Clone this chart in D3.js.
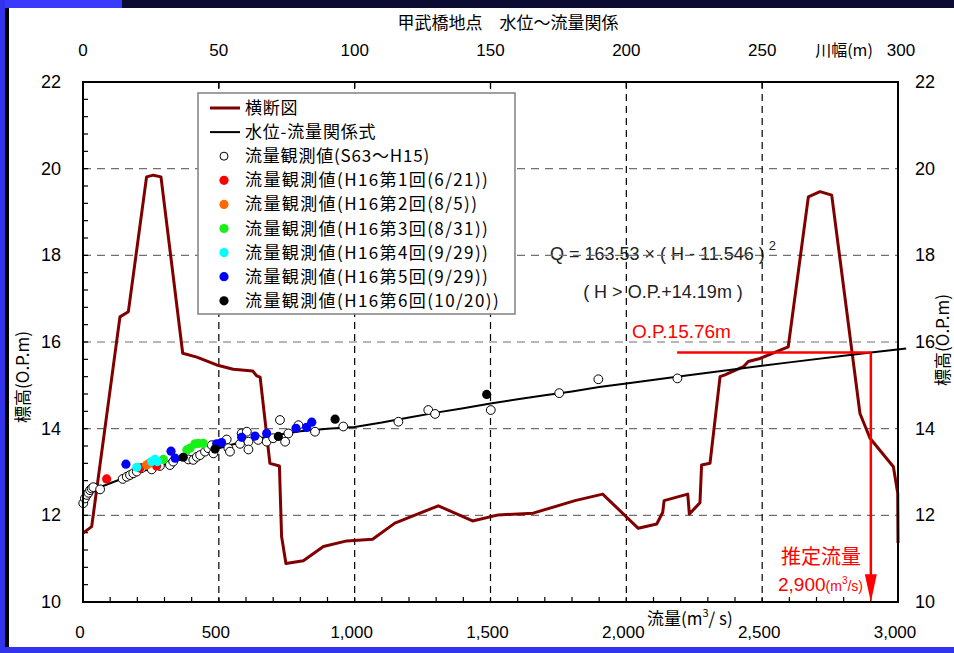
<html>
<head>
<meta charset="utf-8">
<style>
  body { margin: 0; background: #fff; }
  text { font-family: "Liberation Sans", Arial, sans-serif; }
  .jp { font-family: "Noto Sans CJK JP", sans-serif; }
</style>
</head>
<body>
<svg id="chart" width="954" height="653"></svg>
<script src="https://cdn.jsdelivr.net/npm/d3@7/dist/d3.min.js"></script>
<script>
// ---- data ----
// cross-section (top axis: river width m, left axis: elevation O.P.m)
let crossDist = [0, 3.2, 13.6, 16.7, 23.4, 25.9, 28.7, 36.7, 41.9, 49.2, 55.3, 62.5, 63.9, 65.2, 68.8, 72.3, 73.1, 74.7, 81.1, 88.5, 97.1, 106.6, 114.8, 130.8, 143.4, 152.9, 165.7, 181.1, 191.3, 204.4, 211.2, 213.4, 213.9, 222.6, 223.2, 227.1, 227.7, 230.8, 234.5, 236.3, 243.1, 244.9, 249.2, 259.6, 267.0, 271.3, 275.6, 286.0, 289.7, 298.3, 299.9, 300]
let crossElev = [11.59, 11.74, 16.58, 16.70, 19.81, 19.85, 19.81, 15.74, 15.65, 15.47, 15.37, 15.33, 15.22, 15.19, 13.20, 13.14, 11.51, 10.89, 10.95, 11.28, 11.41, 11.45, 11.82, 12.22, 11.87, 12.01, 12.05, 12.34, 12.49, 11.70, 11.80, 12.07, 12.34, 12.49, 12.03, 12.29, 13.16, 13.20, 15.20, 15.24, 15.43, 15.55, 15.62, 15.89, 19.35, 19.47, 19.39, 14.35, 13.78, 13.12, 12.51, 11.36]

// stage-discharge curve
let ratingQ = [0, 50, 100, 200, 300, 400, 500, 600, 700, 800, 900, 1000, 1100, 1200, 1300, 1400, 1500, 1600, 1700, 1800, 1900, 2000, 2200, 2400, 2600, 2800, 2900, 3030]
let ratingH = [12.40, 12.62, 12.74, 12.98, 13.18, 13.36, 13.55, 13.72, 13.84, 13.94, 14.00, 14.04, 14.14, 14.26, 14.37, 14.47, 14.58, 14.68, 14.77, 14.86, 14.96, 15.04, 15.21, 15.37, 15.53, 15.68, 15.76, 15.85]

// observations S63~H15 (open circles)
let obsQ = [1, 7, 14, 20, 26, 32, 38, 63, 146, 161, 173, 185, 198, 216, 253, 283, 320, 332, 388, 406, 419, 431, 449, 461, 474, 480, 529, 535, 541, 578, 584, 603, 609, 609, 645, 676, 700, 725, 744, 756, 793, 854, 958, 1161, 1271, 1296, 1501, 1753, 1897, 2188]
let obsH = [12.28, 12.39, 12.47, 12.52, 12.58, 12.62, 12.65, 12.60, 12.84, 12.89, 12.93, 12.97, 13.01, 13.09, 13.06, 13.14, 13.16, 13.24, 13.29, 13.28, 13.35, 13.39, 13.47, 13.55, 13.62, 13.43, 13.75, 13.55, 13.47, 13.65, 13.89, 13.93, 13.70, 13.52, 13.74, 13.70, 13.78, 14.20, 13.70, 13.89, 14.08, 13.93, 14.05, 14.16, 14.43, 14.34, 14.43, 14.82, 15.14, 15.16]

// H16 observations
let h16_1Q = [87, 210, 271], h16_1H = [12.84, 13.09, 13.14]
let h16_2Q = [234, 244], h16_2H = [13.16, 13.20]
let h16_3Q = [296, 382, 394, 412, 425, 443], h16_3H = [13.29, 13.51, 13.55, 13.65, 13.66, 13.66]
let h16_4Q = [198, 253, 265, 274], h16_4H = [13.11, 13.24, 13.29, 13.24]
let h16_5Q = [158, 324, 339, 492, 510, 584, 633, 676, 784, 823, 842], h16_5H = [13.18, 13.48, 13.32, 13.65, 13.68, 13.80, 13.83, 13.89, 14.01, 14.03, 14.15]
let h16_6Q = [369, 486, 719, 928, 1486], h16_6H = [13.34, 13.53, 13.82, 14.22, 14.79]

let legendNames = ["横断図", "水位-流量関係式", "流量観測値(S63～H15)", "流量観測値(H16第1回(6/21))", "流量観測値(H16第2回(8/5))", "流量観測値(H16第3回(8/31))", "流量観測値(H16第4回(9/29))", "流量観測値(H16第5回(9/29))", "流量観測値(H16第6回(10/20))"]
let markerColors = ["#ff0000", "#ff6a00", "#19f019", "#00ffff", "#0000ff", "#000000"]

let qTicks = [0, 500, 1000, 1500, 2000, 2500, 3000]
let widthTicks = [0, 50, 100, 150, 200, 250, 300]
let hTicks = [10, 12, 14, 16, 18, 20, 22]

let estQ = 2900, estH = 15.76

// ---- layout ----
let svg = d3.select("#chart")
let x = d3.scaleLinear().domain([0, 3000]).range([83, 898])
let xw = d3.scaleLinear().domain([0, 300]).range([83, 898])
let y = d3.scaleLinear().domain([10, 22]).range([602, 82])

// frame decoration
svg.append("rect").attr("x", 0).attr("y", 0).attr("width", 954).attr("height", 8).attr("fill", "#0c0c33")
svg.append("rect").attr("x", 0).attr("y", 0).attr("width", 122).attr("height", 8).attr("fill", "#3a3aff")
svg.append("rect").attr("x", 0).attr("y", 0).attr("width", 5).attr("height", 653).attr("fill", "#3333ee")
svg.append("rect").attr("x", 5).attr("y", 8).attr("width", 4).attr("height", 645).attr("fill", "#000")
svg.append("rect").attr("x", 0).attr("y", 647).attr("width", 954).attr("height", 6).attr("fill", "#3333ee")

// title
svg.append("text").attr("class", "jp").attr("x", 508).attr("y", 29).attr("text-anchor", "middle")
  .attr("font-size", 17).text("甲武橋地点　水位～流量関係")

// equation text (grid runs over it)
let eq = svg.append("text").attr("x", 550).attr("y", 260).attr("font-size", 18).attr("fill", "#222")
eq.append("tspan").text("Q = 163.53 × ( H - 11.546 )")
eq.append("tspan").attr("dy", -10).attr("dx", 4).attr("font-size", 13).text("2")
svg.append("text").attr("x", 663).attr("y", 298).attr("text-anchor", "middle").attr("font-size", 18).attr("fill", "#222")
  .text("( H > O.P.+14.19m )")

// grid
svg.append("g").selectAll("line").data(hTicks.slice(1, -1)).enter().append("line")
  .attr("x1", 83).attr("x2", 898).attr("y1", d => y(d)).attr("y2", d => y(d))
  .attr("stroke", "#707070").attr("stroke-width", 1.2).attr("stroke-dasharray", "8,6")
svg.append("g").selectAll("line").data(qTicks.slice(1, -1)).enter().append("line")
  .attr("x1", d => x(d)).attr("x2", d => x(d)).attr("y1", 82).attr("y2", 602)
  .attr("stroke", "#000").attr("stroke-width", 1.2).attr("stroke-dasharray", "7,5")

// minor ticks
svg.append("g").selectAll("line").data(d3.range(10, 22.01, 0.4)).enter().append("line")
  .attr("x1", 83).attr("x2", 88).attr("y1", d => y(d)).attr("y2", d => y(d)).attr("stroke", "#000").attr("stroke-width", 1.2)
svg.append("g").selectAll("line").data(d3.range(0, 3001, 100)).enter().append("line")
  .attr("x1", d => x(d)).attr("x2", d => x(d)).attr("y1", 602).attr("y2", 597).attr("stroke", "#000").attr("stroke-width", 1.2)
svg.append("g").selectAll("line").data(widthTicks).enter().append("line")
  .attr("x1", d => xw(d)).attr("x2", d => xw(d)).attr("y1", 82).attr("y2", 88).attr("stroke", "#000").attr("stroke-width", 1.2)

// cross section
let crossLine = d3.line().x(d => xw(d[0])).y(d => y(d[1]))
svg.append("path").attr("d", crossLine(d3.zip(crossDist, crossElev)))
  .attr("fill", "none").attr("stroke", "#800000").attr("stroke-width", 3).attr("stroke-linejoin", "round")

// rating curve
let rateLine = d3.line().x(d => x(d[0])).y(d => y(d[1]))
svg.append("path").attr("d", rateLine(d3.zip(ratingQ, ratingH)))
  .attr("fill", "none").attr("stroke", "#000").attr("stroke-width", 2)

// observations
svg.append("g").selectAll("circle").data(d3.zip(obsQ, obsH)).enter().append("circle")
  .attr("cx", d => x(d[0])).attr("cy", d => y(d[1])).attr("r", 4.4)
  .attr("fill", "#fff").attr("stroke", "#000").attr("stroke-width", 1)
let h16 = [[h16_1Q, h16_1H], [h16_2Q, h16_2H], [h16_3Q, h16_3H], [h16_4Q, h16_4H], [h16_5Q, h16_5H], [h16_6Q, h16_6H]]
h16.forEach((s, i) => {
  svg.append("g").selectAll("circle").data(d3.zip(s[0], s[1])).enter().append("circle")
    .attr("cx", d => x(d[0])).attr("cy", d => y(d[1])).attr("r", 4.6).attr("fill", markerColors[i])
})

// estimated flow annotation
svg.append("line").attr("x1", x(2187)).attr("x2", x(estQ)).attr("y1", y(estH)).attr("y2", y(estH))
  .attr("stroke", "#ff0000").attr("stroke-width", 2.5)
svg.append("line").attr("x1", x(estQ)).attr("x2", x(estQ)).attr("y1", y(estH)).attr("y2", y(10.62))
  .attr("stroke", "#ff0000").attr("stroke-width", 2.5)
svg.append("path").attr("d", d3.line()([[x(estQ) - 6, y(10.64)], [x(estQ) + 6, y(10.64)], [x(estQ), y(10)]]) + "Z")
  .attr("fill", "#ff0000")
svg.append("text").attr("x", 632).attr("y", 338).attr("font-size", 19).attr("fill", "#ff0000").text("O.P.15.76m")
svg.append("text").attr("class", "jp").attr("x", 821).attr("y", 564).attr("text-anchor", "middle")
  .attr("font-size", 20).attr("fill", "#ff0000").text("推定流量")
let est = svg.append("text").attr("x", 863).attr("y", 591).attr("text-anchor", "end").attr("fill", "#ff0000").attr("font-size", 19)
est.append("tspan").text("2,900")
est.append("tspan").attr("font-size", 14).text("(m")
est.append("tspan").attr("font-size", 10).attr("dy", -7).text("3")
est.append("tspan").attr("font-size", 14).attr("dy", 7).text("/s)")

// frame lines
svg.append("rect").attr("x", 83).attr("y", 82).attr("width", 815).attr("height", 520)
  .attr("fill", "none").attr("stroke", "#000").attr("stroke-width", 2)

// tick labels
svg.append("g").selectAll("text").data(qTicks).enter().append("text")
  .attr("x", d => x(d) - 3).attr("y", 638).attr("text-anchor", "middle").attr("font-size", 17)
  .text(d => d3.format(",")(d))
svg.append("g").selectAll("text").data(widthTicks).enter().append("text")
  .attr("x", d => xw(d) + (d == 300 ? 3 : 0)).attr("y", 56).attr("text-anchor", "middle").attr("font-size", 17)
  .text(d => d)
svg.append("text").attr("class", "jp").attr("x", 844).attr("y", 56).attr("text-anchor", "middle").attr("font-size", 16).text("川幅(m)")
svg.append("g").selectAll("text").data(hTicks).enter().append("text")
  .attr("x", 61).attr("y", d => y(d) + 6).attr("text-anchor", "end").attr("font-size", 18).text(d => d)
svg.append("g").selectAll("text").data(hTicks).enter().append("text")
  .attr("x", 915).attr("y", d => y(d) + 6).attr("font-size", 18).text(d => d)

// axis titles
svg.append("text").attr("class", "jp").attr("transform", "translate(29,377) rotate(-90)")
  .attr("text-anchor", "middle").attr("font-size", 17).text("標高(O.P.m)")
svg.append("text").attr("class", "jp").attr("transform", "translate(949,340) rotate(-90)")
  .attr("text-anchor", "middle").attr("font-size", 17).text("標高(O.P.m)")
let xt = svg.append("text").attr("class", "jp").attr("x", 647).attr("y", 625).attr("font-size", 17)
xt.append("tspan").text("流量(m")
xt.append("tspan").attr("font-size", 11).attr("dy", -8).text("3")
xt.append("tspan").attr("dy", 8).text("/ s)")

// legend
let legend = svg.append("g")
legend.append("rect").attr("x", 198).attr("y", 93).attr("width", 317).attr("height", 221)
  .attr("fill", "#fff").attr("stroke", "#808080").attr("stroke-width", 1.5)
legendNames.forEach((name, i) => {
  let ly = 108 + i * 24.1
  if (i == 0 || i == 1) {
    legend.append("line").attr("x1", 210).attr("x2", 240).attr("y1", ly).attr("y2", ly)
      .attr("stroke", i == 0 ? "#800000" : "#000").attr("stroke-width", i == 0 ? 3 : 2)
  } else if (i == 2) {
    legend.append("circle").attr("cx", 224).attr("cy", ly).attr("r", 4).attr("fill", "#fff").attr("stroke", "#000")
  } else {
    legend.append("circle").attr("cx", 224).attr("cy", ly).attr("r", 4.6).attr("fill", markerColors[i - 3])
  }
  legend.append("text").attr("class", "jp").attr("x", 245).attr("y", ly + 6).attr("font-size", 17)
    .attr("letter-spacing", i > 2 ? 1.4 : 0.8).text(name)
})
</script>
</body>
</html>
